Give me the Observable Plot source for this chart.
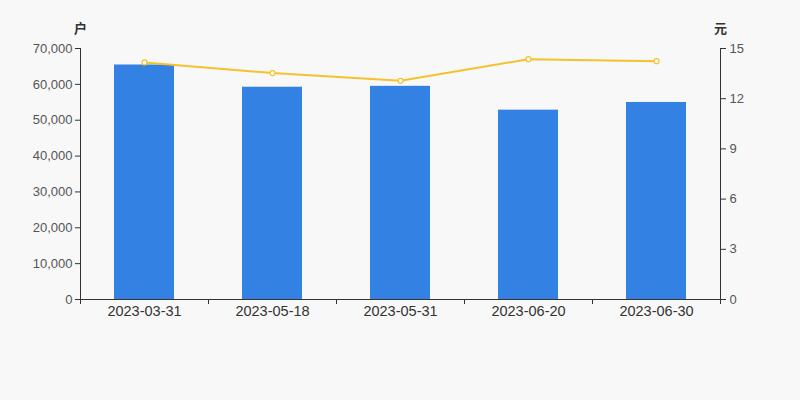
<!DOCTYPE html>
<html><head><meta charset="utf-8">
<script src="https://cdn.jsdelivr.net/npm/d3@7"></script>
<script src="https://cdn.jsdelivr.net/npm/@observablehq/plot@0.6"></script>
<style>
html,body{margin:0;padding:0;background:#f8f8f8;}
</style>
</head><body>
<div id="chart"></div>
<script>
const dates = ["2023-03-31","2023-05-18","2023-05-31","2023-06-20","2023-06-30"];
const holders = [65400, 59200, 59450, 52800, 54950];
const prices = [14.17, 13.53, 13.07, 14.36, 14.24];
const leftTicks = [0,10000,20000,30000,40000,50000,60000,70000];
const rightTicks = [0,3,6,9,12,15];
const leftUnit = "户";
const rightUnit = "元";

const W = 800, H = 400, ML = 80, MR = 80, MT = 48, MB = 101;
const yMax = 70000, rMax = 15;
const k = yMax / rMax;
const rows = dates.map((d,i)=>({date:d, holders:holders[i], price:prices[i], pScaled:prices[i]*k}));
const halfStep = (W - ML - MR) / dates.length / 2;
const font = "'Liberation Sans', 'Noto Sans CJK SC', sans-serif";

const chart = Plot.plot({
  width: W, height: H,
  marginLeft: ML, marginRight: MR, marginTop: MT, marginBottom: MB,
  style: {background: "#f8f8f8", fontFamily: font, fontSize: "13px", color: "#333"},
  x: {type: "band", domain: dates, paddingInner: 0.53, paddingOuter: 0.265},
  y: {domain: [0, yMax]},
  marks: [
    Plot.barY(rows, {x: "date", y: "holders", fill: "#3381e3"}),
    Plot.lineY(rows, {x: "date", y: "pScaled", stroke: "#f5c22b", strokeWidth: 2}),
    Plot.dot(rows, {x: "date", y: "pScaled", r: 2.5, fill: "#ffffff", stroke: "#f5c22b", strokeWidth: 1.2}),
    Plot.axisY({ticks: leftTicks, tickSize: 5, tickPadding: 3, tickFormat: d3.format(","), label: null, stroke: "#333", fill: "#555", fontSize: 13}),
    Plot.axisY({anchor: "right", ticks: rightTicks.map(v=>v*k), tickFormat: d => String(Math.round(d / k)), tickSize: 5, tickPadding: 4, label: null, stroke: "#333", fill: "#555", fontSize: 13}),
    Plot.axisX({tickSize: 0, tickPadding: 6, label: null, fill: "#333", fontSize: 14.5}),
    Plot.ruleX(dates, {x: d => d, dx: -halfStep, y1: 0, y2: 0, insetBottom: -5, stroke: "#333"}),
    Plot.ruleX(dates.slice(-1), {x: d => d, dx: halfStep, y1: 0, y2: 0, insetBottom: -5, stroke: "#333"}),
    Plot.ruleY([0], {stroke: "#333"}),
    Plot.frame({anchor: "left", stroke: "#333"}),
    Plot.frame({anchor: "right", stroke: "#333"}),
    Plot.text([leftUnit], {frameAnchor: "top-left", text: d => d, dy: -20, lineAnchor: "middle", textAnchor: "middle", fontSize: 13, fontWeight: "bold", fill: "#333"}),
    Plot.text([rightUnit], {frameAnchor: "top-right", text: d => d, dy: -20, lineAnchor: "middle", textAnchor: "middle", fontSize: 13, fontWeight: "bold", fill: "#333"})
  ]
});
document.getElementById("chart").appendChild(chart);
</script>
</body></html>
